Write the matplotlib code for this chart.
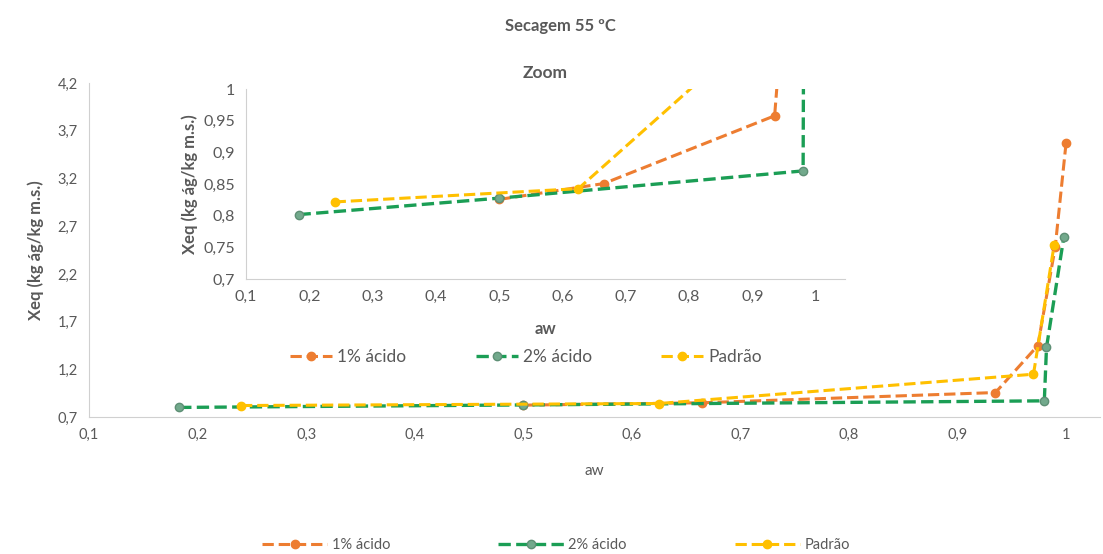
import matplotlib.pyplot as plt
from matplotlib.ticker import FuncFormatter

plt.rcParams['font.family'] = ['Lato', 'DejaVu Sans']

# Dados (aw, Xeq)
aw_1 = [0.5, 0.665, 0.935, 0.974, 0.99, 1.0]
xeq_1 = [0.826, 0.851, 0.958, 1.45, 2.48, 3.57]
aw_2 = [0.183, 0.5, 0.98, 0.982, 0.998]
xeq_2 = [0.802, 0.828, 0.871, 1.43, 2.59]
aw_p = [0.24, 0.625, 0.97, 0.989]
xeq_p = [0.822, 0.843, 1.15, 2.50]

labels = ["1% ácido", "2% ácido", "Padrão"]
main_yticks = [0.7, 1.2, 1.7, 2.2, 2.7, 3.2, 3.7, 4.2]
zoom_yticks = [0.7, 0.75, 0.8, 0.85, 0.9, 0.95, 1.0]
xticks = [0.1, 0.2, 0.3, 0.4, 0.5, 0.6, 0.7, 0.8, 0.9, 1.0]

c_laranja = "#ED7D31"
c_verde = "#1B9E55"
c_verde_mk = "#72A98C"
c_amarelo = "#FFC000"
cinza = "#595959"

virgula = FuncFormatter(lambda v, p: ("%g" % v).replace(".", ","))


def desenha(ax, fs):
    h1, = ax.plot(aw_1, xeq_1, color=c_laranja, ls="--", lw=2.2, marker="o", ms=6,
                  mfc=c_laranja, mec=c_laranja, label=labels[0])
    h2, = ax.plot(aw_2, xeq_2, color=c_verde, ls="--", lw=2.4, marker="o", ms=6,
                  mfc=c_verde_mk, mec="#5E8F75", label=labels[1])
    h3, = ax.plot(aw_p, xeq_p, color=c_amarelo, ls="--", lw=2.2, marker="o", ms=6,
                  mfc=c_amarelo, mec=c_amarelo, label=labels[2])
    for s in ["top", "right"]:
        ax.spines[s].set_visible(False)
    for s in ["left", "bottom"]:
        ax.spines[s].set_color("#D0D0D0")
    ax.tick_params(length=0, labelsize=fs, labelcolor=cinza, pad=8)
    ax.xaxis.set_major_formatter(virgula)
    ax.yaxis.set_major_formatter(virgula)
    ax.set_xticks(xticks)
    return [h1, h2, h3]


fig = plt.figure(figsize=(11.03, 5.54), dpi=100)
fig.suptitle("Secagem 55 ºC", fontsize=12, fontweight="bold", color=cinza, x=0.508, y=0.968)

# Gráfico principal
ax = fig.add_axes([0.0807, 0.247, 0.9163, 0.603])
handles = desenha(ax, 10.5)
ax.set_xlim(0.1, 1.031)
ax.set_ylim(0.7, 4.2)
ax.set_yticks(main_yticks)
ax.set_xlabel("aw", fontsize=11, color=cinza, labelpad=16)
ax.set_ylabel("Xeq (kg ág/kg m.s.)", fontsize=12, fontweight="bold", color=cinza, labelpad=10)

# Zoom
axz = fig.add_axes([0.223, 0.496, 0.543, 0.343])
axz.set_facecolor("white")
desenha(axz, 11.5)
axz.set_xlim(0.1, 1.046)
axz.set_ylim(0.7, 1.0)
axz.set_yticks(zoom_yticks)
axz.set_title("Zoom", fontsize=12.5, fontweight="bold", color=cinza, pad=8)
axz.set_xlabel("aw", fontsize=12, fontweight="bold", color=cinza, labelpad=12)
axz.set_ylabel("Xeq (kg ág/kg m.s.)", fontsize=12, fontweight="bold", color=cinza, labelpad=4)

fig.legend(handles, labels, loc="center", bbox_to_anchor=(0.477, 0.356), ncol=3,
           frameon=False, fontsize=12.5, labelcolor=cinza, handlelength=2.4,
           handletextpad=0.3, columnspacing=4.0, numpoints=1)
fig.legend(handles, labels, loc="center", bbox_to_anchor=(0.504, 0.016), ncol=3,
           frameon=False, fontsize=10.5, labelcolor=cinza, handlelength=4.5,
           handletextpad=0.3, columnspacing=7.4, numpoints=1)

fig.savefig("out.png", dpi=100)
